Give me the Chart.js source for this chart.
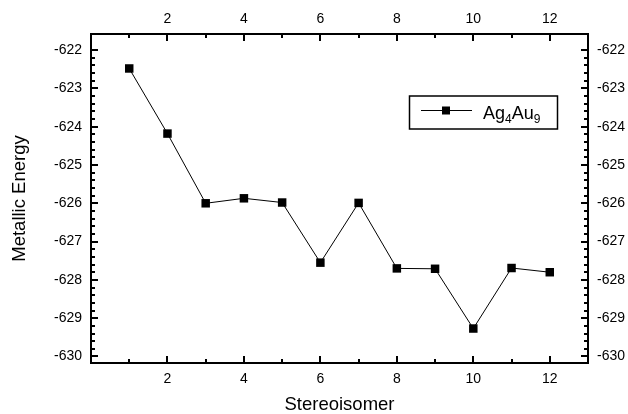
<!DOCTYPE html>
<html>
<head>
<meta charset="utf-8">
<script src="https://cdn.jsdelivr.net/npm/chart.js@4.4.0/dist/chart.umd.min.js"></script>
<style>
  html, body { margin: 0; padding: 0; background: #fff; }
</style>
</head>
<body>
<canvas id="chart" width="628" height="414"></canvas>
<script>
// ── Data ─────────────────────────────────────────────────────────────
const stereoisomers  = [1, 2, 3, 4, 5, 6, 7, 8, 9, 10, 11, 12];
const metallicEnergy = [-622.48, -624.18, -626.00, -625.87, -625.98, -627.55,
                        -625.99, -627.70, -627.71, -629.27, -627.69, -627.80];
const xTickLabels    = [2, 4, 6, 8, 10, 12];
const yTickLabels    = [-630, -629, -628, -627, -626, -625, -624, -623, -622];
const seriesLabel    = [['Ag', false], ['4', true], ['Au', false], ['9', true]];

const FONT = '"Liberation Sans", Arial, Helvetica, sans-serif';
const X_MIN = 0, X_MAX = 13, Y_MIN = -630.17, Y_MAX = -621.58;

Chart.defaults.font.family = FONT;
Chart.defaults.color = '#000';

// ── Inward tick marks (major + minor) on all four sides ──────────────
const frameTicks = {
  id: 'frameTicks',
  afterDatasetsDraw(chart) {
    const { ctx, chartArea: a, scales } = chart;
    ctx.save();
    ctx.strokeStyle = '#000';
    ctx.lineWidth = 2;
    ctx.beginPath();
    for (let v = 1; v < X_MAX; v++) {
      const px = Math.round(scales.x.getPixelForValue(v));
      const len = v % 2 === 0 ? 7 : 4;
      ctx.moveTo(px, a.bottom); ctx.lineTo(px, a.bottom - len);
      ctx.moveTo(px, a.top);    ctx.lineTo(px, a.top + len);
    }
    for (let i = 0; i <= 40; i++) {
      const v = -630 + i * 0.2;
      const py = Math.round(scales.y.getPixelForValue(v));
      const len = i % 5 === 0 ? 7 : 4;
      ctx.moveTo(a.left, py);  ctx.lineTo(a.left + len, py);
      ctx.moveTo(a.right, py); ctx.lineTo(a.right - len, py);
    }
    ctx.stroke();
    ctx.restore();
  }
};

// ── Boxed legend with subscripts ─────────────────────────────────────
const boxLegend = {
  id: 'boxLegend',
  afterDraw(chart) {
    const { ctx } = chart;
    ctx.save();
    ctx.strokeStyle = '#000';
    ctx.lineWidth = 1.5;
    ctx.strokeRect(409.5, 96, 148, 33);
    ctx.lineWidth = 1;
    ctx.beginPath(); ctx.moveTo(421, 110.5); ctx.lineTo(472, 110.5); ctx.stroke();
    ctx.fillStyle = '#000';
    ctx.fillRect(442, 106.5, 8, 8);
    let x = 483;
    ctx.textBaseline = 'alphabetic';
    seriesLabel.forEach(([txt, sub]) => {
      ctx.font = (sub ? '12px ' : '18px ') + FONT;
      ctx.fillText(txt, x, sub ? 122.5 : 118.5);
      x += ctx.measureText(txt).width;
    });
    ctx.restore();
  }
};

const axisBorder = { display: true, color: '#000', width: 2 };
const noGrid = { display: false, drawTicks: false };
const tickFont = { size: 14 };
const plainNum = v => String(v);

new Chart(document.getElementById('chart'), {
  type: 'line',
  data: {
    datasets: [{
      label: 'Ag4Au9',
      data: stereoisomers.map((s, i) => ({ x: s, y: metallicEnergy[i] })),
      borderColor: '#000',
      borderWidth: 1,
      backgroundColor: '#000',
      pointStyle: 'rect',
      pointRadius: 6,
      pointBackgroundColor: '#000',
      pointBorderWidth: 0,
      tension: 0,
      clip: false,
    }]
  },
  options: {
    responsive: false,
    animation: false,
    layout: { padding: 0 },
    plugins: { legend: { display: false }, tooltip: { enabled: false } },
    scales: {
      x: {
        type: 'linear', position: 'bottom', min: X_MIN, max: X_MAX,
        afterBuildTicks: s => { s.ticks = xTickLabels.map(v => ({ value: v })); },
        afterFit: s => { s.height = 51; },
        grid: noGrid, border: axisBorder,
        ticks: { font: tickFont, padding: 8, maxRotation: 0, color: '#000', callback: plainNum },
        title: { display: true, text: 'Stereoisomer', font: { size: 18.5, lineHeight: 1 }, padding: 0, color: '#000' },
      },
      x2: {
        type: 'linear', position: 'top', min: X_MIN, max: X_MAX,
        afterBuildTicks: s => { s.ticks = xTickLabels.map(v => ({ value: v })); },
        afterFit: s => { s.height = 34; },
        grid: noGrid, border: axisBorder,
        ticks: { font: tickFont, padding: 6, maxRotation: 0, color: '#000', callback: plainNum },
      },
      y: {
        type: 'linear', position: 'left', min: Y_MIN, max: Y_MAX,
        afterBuildTicks: s => { s.ticks = yTickLabels.map(v => ({ value: v })); },
        afterFit: s => { s.width = 91; },
        grid: noGrid, border: axisBorder,
        ticks: { font: tickFont, padding: 9, color: '#000', callback: plainNum },
        title: { display: true, text: 'Metallic Energy', font: { size: 18.5, lineHeight: 1.2 }, padding: { top: 9 }, color: '#000' },
      },
      y2: {
        type: 'linear', position: 'right', min: Y_MIN, max: Y_MAX,
        afterBuildTicks: s => { s.ticks = yTickLabels.map(v => ({ value: v })); },
        afterFit: s => { s.width = 40; },
        grid: noGrid, border: axisBorder,
        ticks: { font: tickFont, padding: 9, color: '#000', callback: plainNum },
      },
    }
  },
  plugins: [frameTicks, boxLegend]
});
</script>
</body>
</html>
